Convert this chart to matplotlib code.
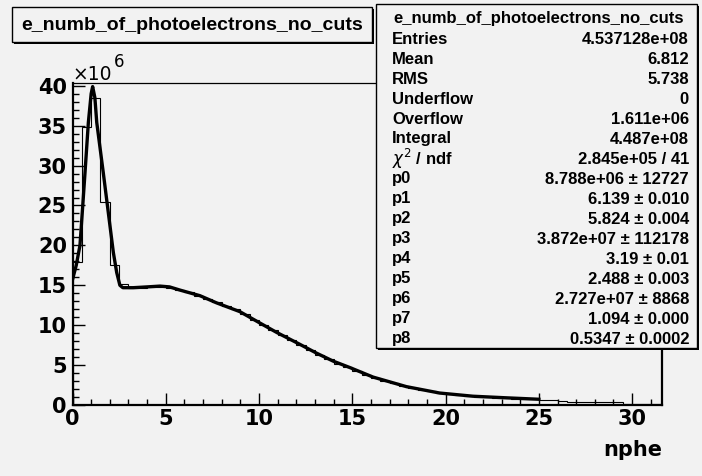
import numpy as np
import matplotlib
matplotlib.use("Agg")
import matplotlib.pyplot as plt
from matplotlib.patches import Rectangle
from matplotlib.ticker import MultipleLocator

# histogram: nphe, bins of 0.5 (values in units of 1e6)
bin_edges = np.arange(0, 32.01, 0.5)
counts = [17.9, 34.8, 38.5, 25.5, 17.6, 15.2, 14.7, 14.7, 14.8, 14.8,
          14.7, 14.4, 14.1, 13.7, 13.3, 12.9, 12.4, 12.0, 11.4, 10.7,
          10.0, 9.4, 8.8, 8.2, 7.5, 6.9, 6.3, 5.8, 5.2, 4.8,
          4.3, 3.8, 3.4, 3.0, 2.7, 2.4, 2.1, 1.9, 1.7, 1.5,
          1.35, 1.2, 1.1, 1.0, 0.95, 0.9, 0.85, 0.8, 0.75, 0.7,
          0.6, 0.6, 0.55, 0.4, 0.4, 0.4, 0.4, 0.4, 0.35, 0.15,
          0.1, 0.1, 0.1, 0.1]

# fit curve
fit_x = [0.0, 0.2, 0.4, 0.55, 0.67, 0.85, 1.0, 1.08, 1.2, 1.3, 1.65, 1.92,
         2.19, 2.37, 2.54, 2.7, 3.26, 4.0, 4.69, 5.2, 5.76, 6.83, 7.72,
         8.97, 9.95, 10.94, 12.19, 13.08, 13.97, 14.86, 16.11, 17.9,
         19.68, 21.47, 23.26, 25.0]
fit_y = [15.7, 17.5, 20.0, 25.0, 29.1, 35.4, 39.0, 39.9, 38.5, 35.4, 29.1, 24.1,
         19.1, 16.6, 15.0, 14.7, 14.7, 14.8, 14.9, 14.8, 14.4, 13.7, 12.8,
         11.7, 10.4, 9.1, 7.6, 6.5, 5.5, 4.7, 3.5, 2.3,
         1.5, 1.1, 0.9, 0.72]

hist_title = "e_numb_of_photoelectrons_no_cuts"
stat_names = ["Entries", "Mean", "RMS", "Underflow", "Overflow", "Integral",
              r"$\chi^{2}$ / ndf", "p0", "p1", "p2", "p3", "p4", "p5", "p6", "p7", "p8"]
stat_values = ["4.537128e+08", "6.812", "5.738", "0", "1.611e+06", "4.487e+08",
               "2.845e+05 / 41", "8.788e+06 ± 12727", "6.139 ± 0.010",
               "5.824 ± 0.004", "3.872e+07 ± 112178", "3.19 ± 0.01",
               "2.488 ± 0.003", "2.727e+07 ± 8868", "1.094 ± 0.000",
               "0.5347 ± 0.0002"]

bg = "#f2f2f2"
W, H = 702, 476
fig = plt.figure(figsize=(W / 100, H / 100), dpi=100, facecolor=bg)

# main axes in pixel geometry
L, R, T, B = 72.5, 662, 83, 405
ax = fig.add_axes([L / W, 1 - B / H, (R - L) / W, (B - T) / H])
ax.set_facecolor(bg)
ax.stairs(counts, bin_edges, color="black", lw=0.8)
ax.plot(fit_x, fit_y, color="black", lw=2.4, solid_joinstyle="round")
ax.set_xlim(0, 31.6)
ax.set_ylim(0, 40.35)

ax.xaxis.set_major_locator(MultipleLocator(5))
ax.xaxis.set_minor_locator(MultipleLocator(1))
ax.yaxis.set_major_locator(MultipleLocator(5))
ax.yaxis.set_minor_locator(MultipleLocator(1))
ax.tick_params(which="both", direction="in", top=False, right=False)
ax.tick_params(which="major", length=8.5, width=1)
ax.tick_params(which="minor", length=4.5, width=1)
ax.tick_params(axis="x", pad=3)
ax.tick_params(axis="y", pad=4)
for lab in ax.get_xticklabels() + ax.get_yticklabels():
    lab.set_fontfamily("DejaVu Sans")
    lab.set_fontweight("bold")
    lab.set_fontsize(15)
for s in ["left", "bottom", "right"]:
    ax.spines[s].set_linewidth(1.6)
ax.spines["top"].set_linewidth(0.9)

# overlay in pixel coordinates for boxes and labels
ov = fig.add_axes([0, 0, 1, 1], zorder=5)
ov.set_xlim(0, W)
ov.set_ylim(H, 0)
ov.axis("off")

ov.text(72, 80, "×10", fontsize=13.5, family="DejaVu Sans", va="baseline")
ov.text(114, 67, "6", fontsize=12, family="DejaVu Sans", va="baseline")
ov.text(662, 456, "nphe", fontsize=15, family="DejaVu Sans", weight="bold",
        ha="right", va="baseline")


def box(x0, y0, x1, y1):
    ov.add_patch(Rectangle((x0 + 2, y0 + 2), x1 - x0, y1 - y0, facecolor="black",
                           edgecolor="none"))
    ov.add_patch(Rectangle((x0, y0), x1 - x0, y1 - y0, facecolor=bg,
                           edgecolor="black", lw=1))


# title box
box(12, 7, 372, 42)
ov.text(192, 25, hist_title, fontsize=14, family="Liberation Sans", weight="bold",
        ha="center", va="center")

# stats box
box(376, 4, 697, 348)
ov.text(539, 18, hist_title, fontsize=12, family="Liberation Sans", weight="bold",
        ha="center", va="center")
for i, (n, v) in enumerate(zip(stat_names, stat_values)):
    yy = 39 + 20 * i
    ov.text(392, yy, n, fontsize=12, family="Liberation Sans", weight="bold",
            ha="left", va="center")
    ov.text(689, yy, v, fontsize=12, family="Liberation Sans", weight="bold",
            ha="right", va="center")

fig.savefig("out.png", dpi=100, facecolor=bg)
